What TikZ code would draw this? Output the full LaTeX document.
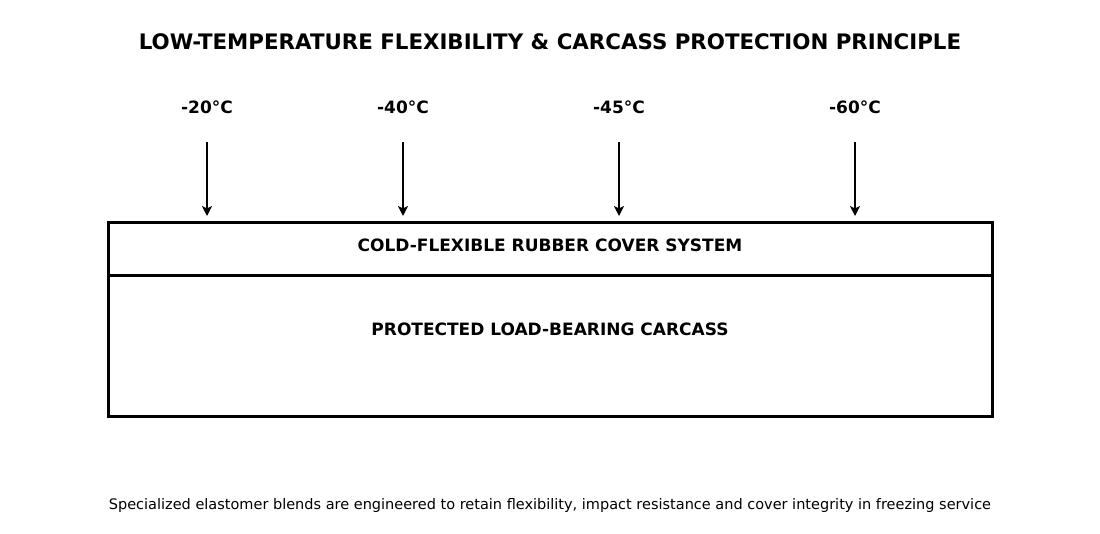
\documentclass[tikz,border=0pt]{standalone}
\usepackage{fontspec}
\setmainfont{DejaVu Sans}
\usetikzlibrary{arrows.meta,positioning}

\begin{document}
\begin{tikzpicture}[
    x=1pt, y=-1pt,
    heading/.style={font=\bfseries\fontsize{21.35}{25}\selectfont},
    temp/.style={font=\bfseries\fontsize{17}{20}\selectfont},
    layertext/.style={font=\bfseries\fontsize{17}{20}\selectfont},
    note/.style={font=\fontsize{14.5}{17}\selectfont},
    layer/.style={draw=black, line width=3pt},
    cold/.style={-{Stealth[length=10pt,width=10pt,inset=2.5pt]}, line width=2pt, black}
]
    \useasboundingbox (0,0) rectangle (1100,534);

    % Title
    \node[heading] (title) at (550,42) {LOW-TEMPERATURE FLEXIBILITY \& CARCASS PROTECTION PRINCIPLE};

    % Temperatures
    \node[temp] (t20) at (207,107) {-20°C};
    \node[temp] (t40) at (403,107) {-40°C};
    \node[temp] (t45) at (619,107) {-45°C};
    \node[temp] (t60) at (855,107) {-60°C};

    % Arrow ends
    \coordinate (s20) at (207,142); \coordinate (e20) at (207,216);
    \coordinate (s40) at (403,142); \coordinate (e40) at (403,216);
    \coordinate (s45) at (619,142); \coordinate (e45) at (619,216);
    \coordinate (s60) at (855,142); \coordinate (e60) at (855,216);

    % Layers
    \draw[layer] (108,223) rectangle (992,416);
    \draw[layer] (108,276) -- (992,276);
    \node[layertext] (cover) at (550,245) {COLD-FLEXIBLE RUBBER COVER SYSTEM};
    \node[layertext] (carcass) at (550,329) {PROTECTED LOAD-BEARING CARCASS};

    % Cold exposure
    \draw[cold] (s20) -- (e20);
    \draw[cold] (s40) -- (e40);
    \draw[cold] (s45) -- (e45);
    \draw[cold] (s60) -- (e60);

    % Footer
    \node[note] (footer) at (550,505) {Specialized elastomer blends are engineered to retain flexibility, impact resistance and cover integrity in freezing service};
\end{tikzpicture}
\end{document}
